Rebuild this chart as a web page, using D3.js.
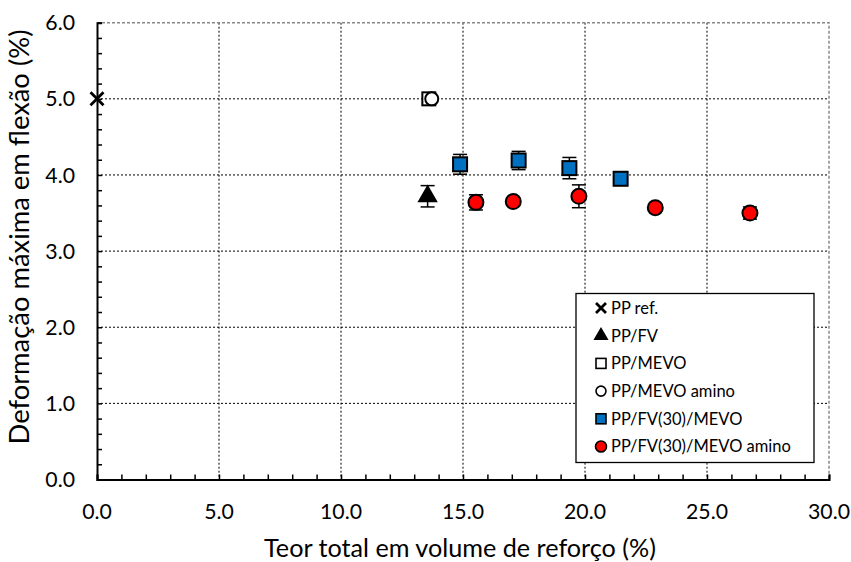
<!DOCTYPE html>
<html><head><meta charset="utf-8">
<script src="https://cdn.jsdelivr.net/npm/d3@7"></script>
<style>body{margin:0;background:#fff}svg{font-family:Lato,"Open Sans",sans-serif}</style>
</head><body><svg id="c" width="851" height="562"></svg>
<script>
const xTicks=[0,5,10,15,20,25,30];
const yTicks=[0,1,2,3,4,5,6];
const ppRef={x:[0],y:[5.0],e:[0]};
const ppFV={x:[13.55],y:[3.72],e:[0.14]};
const ppMEVO={x:[13.6],y:[5.0],e:[0]};
const ppMEVOamino={x:[13.72],y:[5.0],e:[0]};
const ppFVMEVO={x:[14.88,17.28,19.36,21.46],y:[4.14,4.19,4.09,3.95],e:[0.13,0.12,0.14,0.03]};
const ppFVMEVOamino={x:[15.53,17.06,19.75,22.88,26.76],y:[3.64,3.65,3.72,3.57,3.50],e:[0.1,0.05,0.15,0.04,0.08]};
const legendLabels=["PP ref.","PP/FV","PP/MEVO","PP/MEVO amino","PP/FV(30)/MEVO","PP/FV(30)/MEVO amino"];

const svg=d3.select("#c");
const L=97,R=829,T=22.7,B=479.5;
const x=d3.scaleLinear().domain([0,30]).range([L,R]);
const y=d3.scaleLinear().domain([0,6]).range([B,T]);

function fitSize(sel,target){
 const w=sel.node().getComputedTextLength();
 const fs=parseFloat(sel.attr("font-size"));
 sel.attr("font-size",fs*target/w);
}

const g=svg.append("g");
g.selectAll(".vx").data(xTicks.filter(d=>d>0&&d<30)).join("line")
 .attr("x1",d=>x(d)).attr("x2",d=>x(d)).attr("y1",T).attr("y2",B)
 .attr("stroke","#000").attr("stroke-width",1).attr("stroke-dasharray","2,2");
g.selectAll(".hy").data(yTicks.filter(d=>d>0&&d<6)).join("line")
 .attr("y1",d=>y(d)).attr("y2",d=>y(d)).attr("x1",L).attr("x2",R)
 .attr("stroke","#000").attr("stroke-width",1).attr("stroke-dasharray","2,2");
svg.append("path").attr("d",`M${L},${T}H${R}V${B}`).attr("fill","none")
 .attr("stroke","#888").attr("stroke-width",1.5).attr("stroke-dasharray","3,2");

const xAxis=d3.axisBottom(x).tickValues(d3.range(0,31,1)).tickSize(-5).tickFormat("");
const ax=svg.append("g").attr("transform",`translate(0,${B})`).call(xAxis);
const yAxis=d3.axisLeft(y).tickValues(d3.range(0,31,1).map(d=>d/5)).tickSize(-5).tickFormat("");
const ay=svg.append("g").attr("transform",`translate(${L},0)`).call(yAxis);
[ax,ay].forEach(a=>{a.select(".domain").attr("stroke","#000").attr("stroke-width",2);
 a.selectAll(".tick line").attr("stroke","#000").attr("stroke-width",1.5);});

// tick font size calibrated to reference label width
const probe=svg.append("text").attr("font-size",19).text("10.0");
fitSize(probe,42);
const tickFS=+probe.attr("font-size");
probe.remove();

svg.append("g").selectAll("text").data(xTicks).join("text")
 .attr("x",d=>x(d)).attr("y",518.5).attr("text-anchor","middle")
 .attr("font-size",tickFS).attr("fill","#000").text(d=>d.toFixed(1));
svg.append("g").selectAll("text").data(yTicks).join("text")
 .attr("x",75).attr("y",d=>y(d)).attr("dy","0.36em").attr("text-anchor","end")
 .attr("font-size",tickFS).attr("fill","#000").text(d=>d.toFixed(1));
const xt=svg.append("text").attr("x",460).attr("y",557).attr("text-anchor","middle")
 .attr("font-size",22).attr("fill","#000").text("Teor total em volume de reforço (%)");
fitSize(xt,392);
const yt=svg.append("text").attr("transform",`translate(29,237) rotate(-90)`).attr("text-anchor","middle")
 .attr("font-size",22).attr("fill","#000").text("Deformação máxima em flexão (%)");
fitSize(yt,415);

function errs(s){
 const gg=svg.append("g").attr("stroke","#000").attr("stroke-width",1.5);
 s.x.forEach((xv,i)=>{ if(!s.e[i])return;
  const cx=x(xv),y1=y(s.y[i]+s.e[i]),y2=y(s.y[i]-s.e[i]);
  gg.append("line").attr("x1",cx).attr("x2",cx).attr("y1",y1).attr("y2",y2);
  gg.append("line").attr("x1",cx-7).attr("x2",cx+7).attr("y1",y1).attr("y2",y1);
  gg.append("line").attr("x1",cx-7).attr("x2",cx+7).attr("y1",y2).attr("y2",y2);
 });
}
[ppFV,ppFVMEVO,ppFVMEVOamino].forEach(errs);

function marker(sel,type,size){
 if(type==="x"){
  const h=size/2;
  sel.append("path").attr("d",`M${-h},${-h}L${h},${h}M${-h},${h}L${h},${-h}`).attr("stroke","#000").attr("stroke-width",2.8).attr("fill","none");
 } else if(type==="tri"){
  sel.append("path").attr("d",d3.symbol(d3.symbolTriangle,size*size*0.55)()).attr("fill","#000").attr("stroke","#000");
 } else if(type==="sq"){
  sel.append("rect").attr("x",-size/2).attr("y",-size/2).attr("width",size).attr("height",size);
 } else if(type==="ci"){
  sel.append("circle").attr("r",size/2);
 }
}
const styles=[
 {s:ppRef,t:"x",fill:"none",sz:13,lsz:10},
 {s:ppFV,t:"tri",fill:"#000",sz:15,lsz:11},
 {s:ppMEVO,t:"sq",fill:"#fff",sz:13,lsz:10},
 {s:ppMEVOamino,t:"ci",fill:"#fff",sz:13,lsz:10},
 {s:ppFVMEVO,t:"sq",fill:"#0070C0",sz:14,lsz:10},
 {s:ppFVMEVOamino,t:"ci",fill:"#FF0000",sz:15,lsz:11}
];
styles.forEach(st=>{
 st.s.x.forEach((xv,i)=>{
  const m=svg.append("g").attr("transform",`translate(${x(xv)},${y(st.s.y[i])})`)
   .attr("fill",st.fill).attr("stroke","#000").attr("stroke-width",2);
  marker(m,st.t,st.sz);
 });
});

const lg=svg.append("g");
lg.append("rect").attr("x",576).attr("y",293.5).attr("width",238).attr("height",169)
 .attr("fill","#fff").attr("stroke","#000").attr("stroke-width",1.3);
styles.forEach((st,i)=>{
 const yy=308+i*27.7;
 const m=lg.append("g").attr("transform",`translate(601,${yy})`).attr("fill",st.fill).attr("stroke","#000").attr("stroke-width",1.6);
 marker(m,st.t,st.lsz);
 lg.append("text").attr("x",611).attr("y",yy).attr("dy","0.36em").attr("font-size",16.5).attr("fill","#000").text(legendLabels[i]);
});
</script></body></html>
